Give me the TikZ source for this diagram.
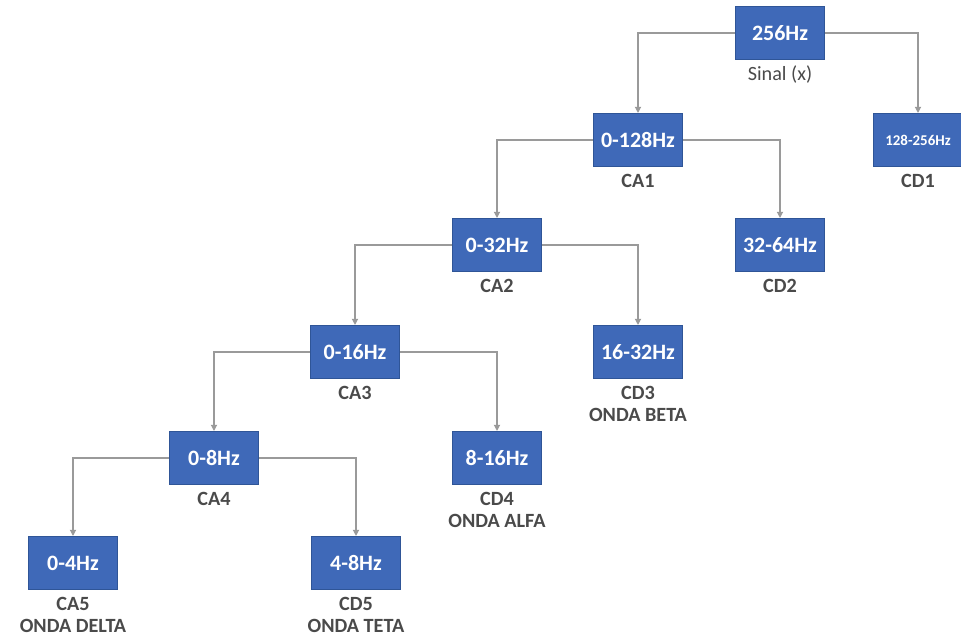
\documentclass[tikz,border=0pt]{standalone}
\usepackage{fontspec}
\setmainfont{Carlito}
\usetikzlibrary{arrows.meta,positioning}
\definecolor{boxfill}{HTML}{3F69B8}
\definecolor{boxline}{HTML}{2F5597}
\definecolor{lbltxt}{HTML}{4A4A4A}
\definecolor{arrowc}{HTML}{9A9A9A}

\begin{document}
\begin{tikzpicture}[
  x=0.02cm, y=-0.02cm,
  band/.style={draw=boxline, line width=0.6pt, fill=boxfill, text=white,
     minimum width=1.78cm, minimum height=1.06cm, inner sep=2pt,
     font=\bfseries\fontsize{12.5}{13}\selectfont},
  lbl/.style={text=lbltxt, align=center, inner sep=1pt,
     font=\bfseries\fontsize{11.5}{12.5}\selectfont},
  arr/.style={-{Triangle[length=3.5pt,width=3.5pt]}, line width=0.7pt, draw=arrowc},
]
\useasboundingbox (0,0) rectangle (961,638);
% --- level 0 ---
\node[band] (sig) at (780,33) {256Hz};
% --- level 1 ---
\node[band] (ca1) at (638,140) {0-128Hz};
\node[band, font=\bfseries\fontsize{8.5}{9}\selectfont] (cd1) at (918,140) {128-256Hz};
% --- level 2 ---
\node[band] (ca2) at (497,245) {0-32Hz};
\node[band] (cd2) at (780,245) {32-64Hz};
% --- level 3 ---
\node[band] (ca3) at (355,352) {0-16Hz};
\node[band] (cd3) at (638,352) {16-32Hz};
% --- level 4 ---
\node[band] (ca4) at (214,458) {0-8Hz};
\node[band] (cd4) at (497,458) {8-16Hz};
% --- level 5 ---
\node[band] (ca5) at (73,563) {0-4Hz};
\node[band] (cd5) at (356,563) {4-8Hz};
% --- labels ---
\node[lbl, font=\fontsize{11.5}{12.5}\selectfont, below=0.8mm of sig] (lsig) {Sinal (x)};
\node[lbl, below=1mm of ca1] (lca1) {CA1};
\node[lbl, below=1mm of cd1] (lcd1) {CD1};
\node[lbl, below=1mm of ca2] (lca2) {CA2};
\node[lbl, below=1mm of cd2] (lcd2) {CD2};
\node[lbl, below=1mm of ca3] (lca3) {CA3};
\node[lbl, below=1mm of cd3] (lcd3) {CD3\\ONDA BETA};
\node[lbl, below=1mm of ca4] (lca4) {CA4};
\node[lbl, below=1mm of cd4] (lcd4) {CD4\\ONDA ALFA};
\node[lbl, below=1mm of ca5] (lca5) {CA5\\ONDA DELTA};
\node[lbl, below=1mm of cd5] (lcd5) {CD5\\ONDA TETA};
% --- arrows ---
\draw[arr] (sig.west) -| (ca1.north);
\draw[arr] (sig.east) -| (cd1.north);
\draw[arr] (ca1.west) -| (ca2.north);
\draw[arr] (ca1.east) -| (cd2.north);
\draw[arr] (ca2.west) -| (ca3.north);
\draw[arr] (ca2.east) -| (cd3.north);
\draw[arr] (ca3.west) -| (ca4.north);
\draw[arr] (ca3.east) -| (cd4.north);
\draw[arr] (ca4.west) -| (ca5.north);
\draw[arr] (ca4.east) -| (cd5.north);
\end{tikzpicture}
\end{document}
